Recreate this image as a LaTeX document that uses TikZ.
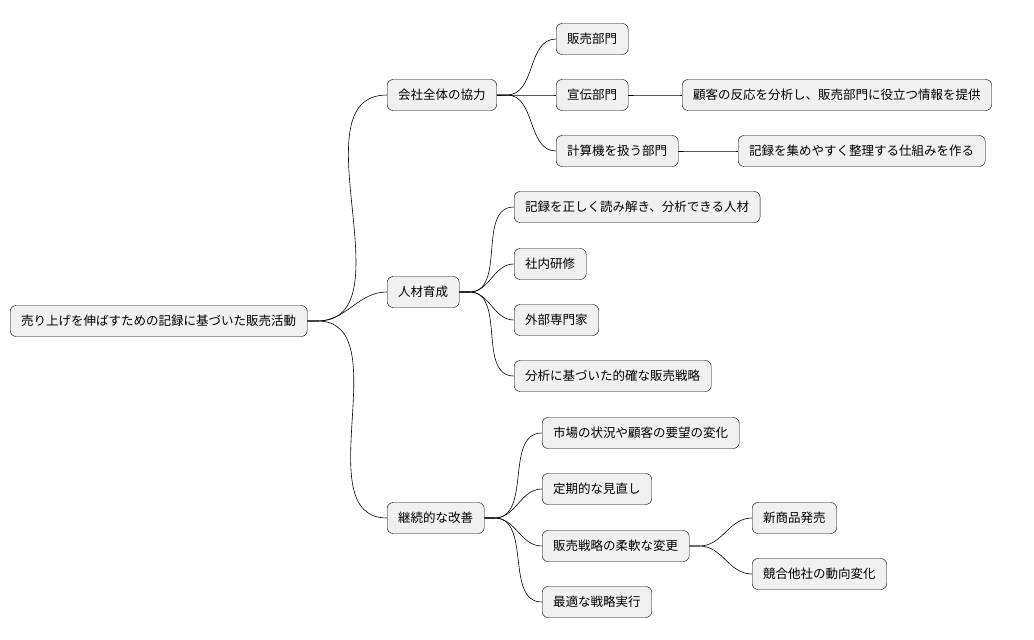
\documentclass[tikz,border=0pt]{standalone}
\usepackage{fontspec}
\newfontfamily\cjk{Noto Sans CJK JP}
\usetikzlibrary{positioning}

\begin{document}
\begin{tikzpicture}[
  x=1pt, y=-1pt,
  box/.style={draw, fill=black!6, rounded corners=6pt, anchor=west,
    minimum height=31pt, inner xsep=11pt, font=\cjk\fontsize{12.5}{14}\selectfont},
  link/.style={line width=0.6pt}
]
\useasboundingbox (0,0) rectangle (1034,640);

% --- Raiz ---
\node[box] (root) at (10,321) {売り上げを伸ばすための記録に基づいた販売活動};

% --- Ramos principais ---
\node[box] (coop)  at (387,95)  {会社全体の協力};
\node[box] (human) at (387,292) {人材育成};
\node[box] (kaizen) at (387,518) {継続的な改善};

% ---協力 ---
\node[box] (sales) at (556,39)  {販売部門};
\node[box] (ad)    at (556,95)  {宣伝部門};
\node[box] (comp)  at (556,151) {計算機を扱う部門};
\node[box] (adinfo)   at (682,95)  {顧客の反応を分析し、販売部門に役立つ情報を提供};
\node[box] (compinfo) at (738,151) {記録を集めやすく整理する仕組みを作る};

% --- 人材 ---
\node[box] (analyst)  at (514,207) {記録を正しく読み解き、分析できる人材};
\node[box] (training) at (514,264) {社内研修};
\node[box] (expert)   at (514,320) {外部専門家};
\node[box] (strategy) at (514,376) {分析に基づいた的確な販売戦略};

% --- 改善 ---
\node[box] (market)  at (542,433) {市場の状況や顧客の要望の変化};
\node[box] (review)  at (542,489) {定期的な見直し};
\node[box] (flex)    at (542,546) {販売戦略の柔軟な変更};
\node[box] (best)    at (542,602) {最適な戦略実行};
\node[box] (newprod) at (752,518) {新商品発売};
\node[box] (rival)   at (752,574) {競合他社の動向変化};

% --- Conexões ---
\foreach \p/\c in {root/coop, root/human, root/kaizen,
  coop/sales, coop/ad, coop/comp, ad/adinfo, comp/compinfo,
  human/analyst, human/training, human/expert, human/strategy,
  kaizen/market, kaizen/review, kaizen/flex, kaizen/best,
  flex/newprod, flex/rival}
  \draw[link] (\p.east) -- ++(10,0) to[out=0,in=180] (\c.west);

\end{tikzpicture}
\end{document}
